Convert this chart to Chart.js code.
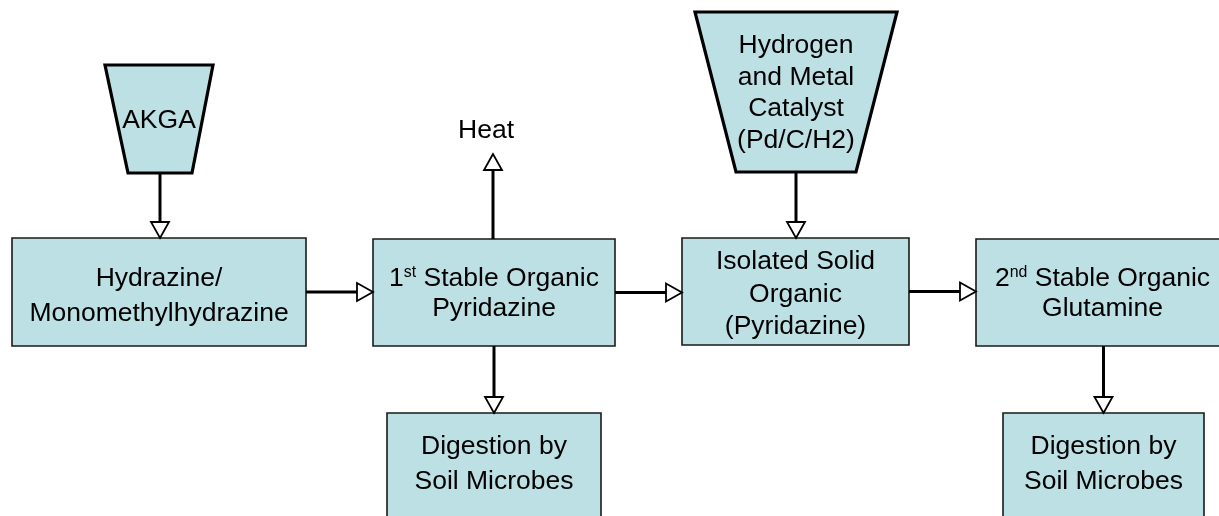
<!DOCTYPE html>
<html>
<head>
<meta charset="utf-8">
<script src="https://cdn.jsdelivr.net/npm/chart.js@4.4.0/dist/chart.umd.min.js"></script>
<style>
  html, body { margin: 0; padding: 0; background: #fff; }
  #chartContainer { width: 1219px; height: 516px; position: relative; }
</style>
</head>
<body>
<div id="chartContainer"><canvas id="flow"></canvas></div>
<script>
// node labels (^{..} = superscript)
var nodeLabels = [
  ['AKGA'],
  ['Hydrogen', 'and Metal', 'Catalyst', '(Pd/C/H2)'],
  ['Hydrazine/', 'Monomethylhydrazine'],
  ['1^{st} Stable Organic', 'Pyridazine'],
  ['Isolated Solid', 'Organic', '(Pyridazine)'],
  ['2^{nd} Stable Organic', 'Glutamine'],
  ['Digestion by', 'Soil Microbes'],
  ['Digestion by', 'Soil Microbes'],
  ['Heat']
];
var nodeKinds = ['trap', 'trap', 'box', 'box', 'box', 'box', 'box', 'box', 'text'];
// links: [from, to]
var links = [[0, 2], [1, 4], [2, 3], [3, 4], [4, 5], [3, 6], [5, 7], [3, 8]];

// layout in chart units (x 0..1219, y 0..516 downwards)
var layout = [
  { x0: 105, x1: 213, y0: 65, y1: 173, bx0: 128, bx1: 192, ty: 118.5, lh: 33 },
  { x0: 695, x1: 897, y0: 12, y1: 172, bx0: 736, bx1: 856, ty: 91, lh: 31.7 },
  { x0: 12, x1: 306, y0: 238, y1: 346, ty: 294, lh: 35 },
  { x0: 373, x1: 615, y0: 239, y1: 346, ty: 291.5, lh: 30 },
  { x0: 682, x1: 909, y0: 238, y1: 345, ty: 292, lh: 32.5 },
  { x0: 976, x1: 1229, y0: 239, y1: 346, ty: 291.5, lh: 30 },
  { x0: 387, x1: 601, y0: 413, y1: 530, ty: 462, lh: 35 },
  { x0: 1003, x1: 1204, y0: 413, y1: 530, ty: 462, lh: 35 },
  { x0: 486, x1: 486, y0: 154, y1: 154, ty: 128.5, lh: 30 }
];
var heatArrowX = 493;

var FONT = 26.5;
var FAMILY = '"Liberation Sans", Arial, sans-serif';

function parseLine(s) {
  var parts = [];
  var re = /\^\{([^}]*)\}/g, last = 0, m;
  while ((m = re.exec(s)) !== null) {
    if (m.index > last) parts.push({ t: s.slice(last, m.index), sup: false });
    parts.push({ t: m[1], sup: true });
    last = re.lastIndex;
  }
  if (last < s.length) parts.push({ t: s.slice(last), sup: false });
  return parts;
}

var flowPlugin = {
  id: 'flow',
  afterDatasetsDraw: function (chart) {
    var ctx = chart.ctx;
    var xs = chart.scales.x, ys = chart.scales.y;
    var X = function (v) { return xs.getPixelForValue(v); };
    var Y = function (v) { return ys.getPixelForValue(v); };
    ctx.save();

    // shapes
    nodeKinds.forEach(function (k, i) {
      var L = layout[i];
      if (k === 'box') {
        ctx.beginPath();
        ctx.rect(X(L.x0), Y(L.y0), X(L.x1) - X(L.x0), Y(L.y1) - Y(L.y0));
        ctx.fillStyle = '#bce0e3';
        ctx.fill();
        ctx.lineWidth = 1.6;
        ctx.strokeStyle = '#1a1a1a';
        ctx.stroke();
      } else if (k === 'trap') {
        ctx.beginPath();
        ctx.moveTo(X(L.x0), Y(L.y0));
        ctx.lineTo(X(L.x1), Y(L.y0));
        ctx.lineTo(X(L.bx1), Y(L.y1));
        ctx.lineTo(X(L.bx0), Y(L.y1));
        ctx.closePath();
        ctx.fillStyle = '#bce0e3';
        ctx.fill();
        ctx.lineWidth = 3.2;
        ctx.lineJoin = 'miter';
        ctx.strokeStyle = '#000';
        ctx.stroke();
      }
    });

    // arrows
    function arrow(x1, y1, x2, y2) {
      var ang = Math.atan2(y2 - y1, x2 - x1);
      var hl = 16, hw = 9;
      var bx = x2 - hl * Math.cos(ang), by = y2 - hl * Math.sin(ang);
      ctx.beginPath();
      ctx.moveTo(x1, y1);
      ctx.lineTo(bx, by);
      ctx.lineWidth = 3;
      ctx.strokeStyle = '#000';
      ctx.lineCap = 'butt';
      ctx.stroke();
      ctx.beginPath();
      ctx.moveTo(x2, y2);
      ctx.lineTo(bx + hw * Math.sin(ang), by - hw * Math.cos(ang));
      ctx.lineTo(bx - hw * Math.sin(ang), by + hw * Math.cos(ang));
      ctx.closePath();
      ctx.fillStyle = '#fff';
      ctx.fill();
      ctx.lineWidth = 1.8;
      ctx.lineJoin = 'miter';
      ctx.stroke();
    }
    links.forEach(function (lk) {
      var a = layout[lk[0]], b = layout[lk[1]];
      var ka = nodeKinds[lk[0]], kb = nodeKinds[lk[1]];
      if (kb === 'text') {
        arrow(X(heatArrowX), Y(a.y0), X(heatArrowX), Y(b.y0));
      } else if (ka === 'trap') {
        var cx = (a.bx0 + a.bx1) / 2;
        arrow(X(cx), Y(a.y1), X(cx), Y(b.y0));
      } else if (b.y0 > a.y1) {
        var cx2 = (b.x0 + b.x1) / 2;
        arrow(X(cx2), Y(a.y1), X(cx2), Y(b.y0));
      } else {
        var cy = (a.y0 + a.y1) / 2;
        arrow(X(a.x1), Y(cy), X(b.x0), Y(cy));
      }
    });

    // labels
    ctx.fillStyle = '#000';
    ctx.textBaseline = 'alphabetic';
    nodeLabels.forEach(function (lines, i) {
      var L = layout[i];
      var cx = (L.x0 + L.x1) / 2;
      if (nodeKinds[i] === 'box' && L.x1 > 1219) cx = (L.x0 + 1229) / 2;
      var n = lines.length;
      lines.forEach(function (line, j) {
        var parts = parseLine(line);
        var w = 0;
        parts.forEach(function (p) {
          ctx.font = (p.sup ? FONT * 0.6 : FONT) + 'px ' + FAMILY;
          p.w = ctx.measureText(p.t).width;
          w += p.w;
        });
        var base = Y(L.ty + (j - (n - 1) / 2) * L.lh + 0.36 * FONT);
        var x = X(cx) - w / 2;
        ctx.textAlign = 'left';
        parts.forEach(function (p) {
          ctx.font = (p.sup ? FONT * 0.6 : FONT) + 'px ' + FAMILY;
          ctx.fillText(p.t, x, p.sup ? base - FONT * 0.35 : base);
          x += p.w;
        });
      });
    });
    ctx.restore();
  }
};

var centers = layout.map(function (L) { return { x: (L.x0 + L.x1) / 2, y: (L.y0 + L.y1) / 2 }; });

new Chart(document.getElementById('flow').getContext('2d'), {
  type: 'scatter',
  data: { datasets: [{ data: centers, pointRadius: 0 }] },
  options: {
    responsive: true,
    maintainAspectRatio: false,
    animation: false,
    layout: { padding: 0 },
    plugins: { legend: { display: false }, tooltip: { enabled: false } },
    scales: {
      x: { type: 'linear', min: 0, max: 1219, display: false },
      y: { type: 'linear', min: 0, max: 516, reverse: true, display: false }
    }
  },
  plugins: [flowPlugin]
});
</script>
</body>
</html>
